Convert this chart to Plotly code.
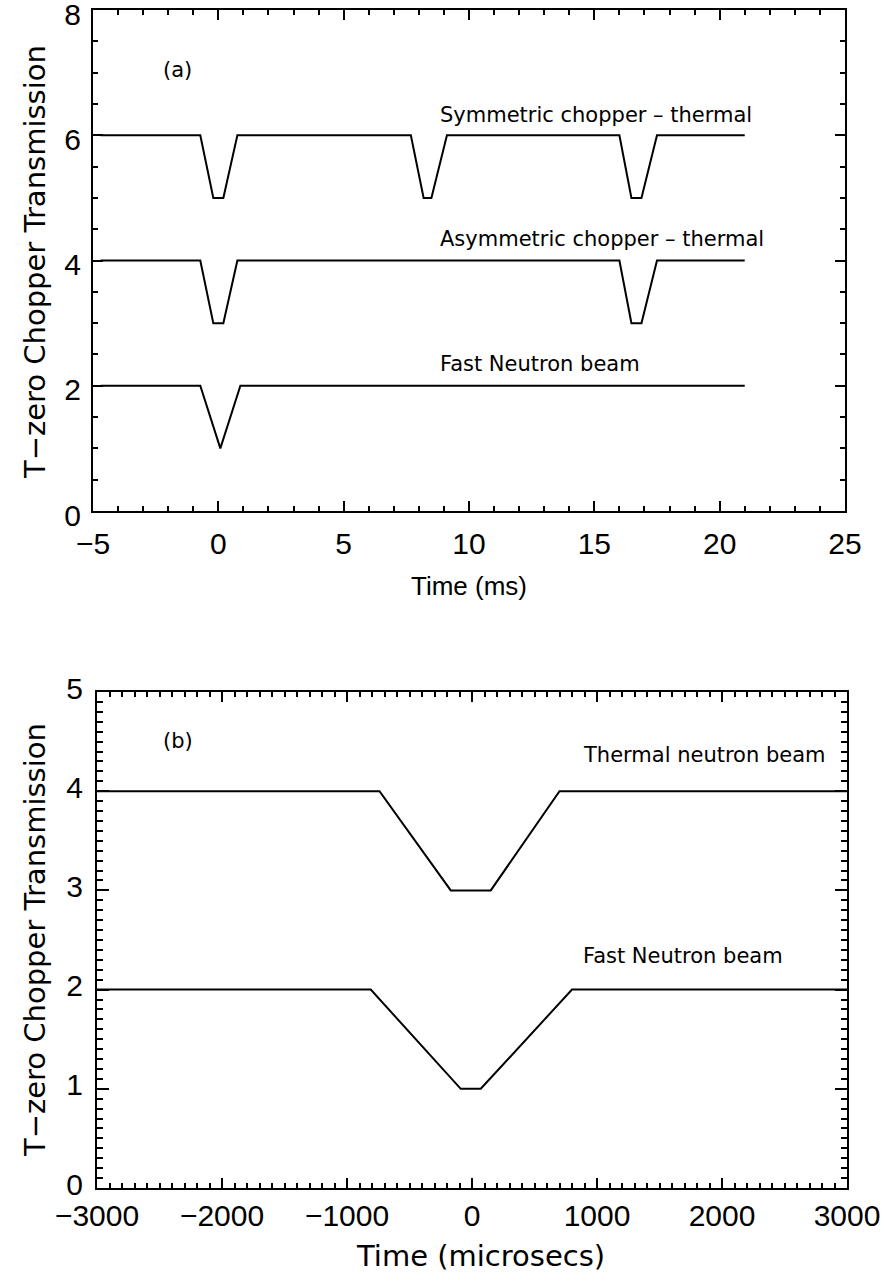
import plotly.graph_objects as go

# ---------- data: panel (a) ----------
sym_t = [-4.7, -0.72, -0.2, 0.2, 0.76, 7.68, 8.19, 8.5, 9.12, 16.0, 16.48, 16.88, 17.5, 21.0]
sym_y = [6, 6, 5, 5, 6, 6, 5, 5, 6, 6, 5, 5, 6, 6]
asym_t = [-4.7, -0.72, -0.2, 0.2, 0.76, 16.0, 16.48, 16.88, 17.5, 21.0]
asym_y = [4, 4, 3, 3, 4, 4, 3, 3, 4, 4]
fast_a_t = [-4.7, -0.72, 0.08, 0.88, 21.0]
fast_a_y = [2, 2, 1, 2, 2]

# ---------- data: panel (b) ----------
therm_b_t = [-3000, -740, -170, 150, 700, 3000]
therm_b_y = [4, 4, 3, 3, 4, 4]
fast_b_t = [-3000, -810, -90, 70, 800, 3000]
fast_b_y = [2, 2, 1, 1, 2, 2]

labels_a = ["Symmetric chopper \u2013 thermal", "Asymmetric chopper \u2013 thermal", "Fast Neutron beam"]
labels_b = ["Thermal neutron beam", "Fast Neutron beam"]
ytitle = "T\u2212zero Chopper Transmission"

W, H = 888, 1283
def px(x): return x / W
def py(y): return 1 - y / H

line = dict(color="black", width=2)
fig = go.Figure()
fig.add_trace(go.Scatter(x=sym_t, y=sym_y, mode="lines", line=line, xaxis="x", yaxis="y"))
fig.add_trace(go.Scatter(x=asym_t, y=asym_y, mode="lines", line=line, xaxis="x", yaxis="y"))
fig.add_trace(go.Scatter(x=fast_a_t, y=fast_a_y, mode="lines", line=line, xaxis="x", yaxis="y"))
fig.add_trace(go.Scatter(x=therm_b_t, y=therm_b_y, mode="lines", line=line, xaxis="x2", yaxis="y2"))
fig.add_trace(go.Scatter(x=fast_b_t, y=fast_b_y, mode="lines", line=line, xaxis="x2", yaxis="y2"))

tickfont = dict(family="Liberation Sans", size=30, color="black")
common = dict(showgrid=False, zeroline=False, showline=True, linecolor="black", linewidth=2,
              mirror="allticks", ticks="inside", tickcolor="black", tickwidth=1.5,
              tickfont=tickfont, automargin=False, ticklabeloverflow="allow")

fig.update_layout(
    width=W, height=H, margin=dict(l=0, r=0, t=0, b=0, autoexpand=False),
    paper_bgcolor="white", plot_bgcolor="white", showlegend=False,
    xaxis=dict(common, domain=[px(93), px(845)], range=[-5, 25], dtick=5, tick0=0, ticklen=10,
               minor=dict(dtick=1, ticklen=5, ticks="inside", tickcolor="black"),
               anchor="y", ticklabelstandoff=5),
    yaxis=dict(common, domain=[py(511), py(10)], range=[0, 8], dtick=2, tick0=0, ticklen=10,
               minor=dict(dtick=0.5, ticklen=5, ticks="inside", tickcolor="black"),
               anchor="x", ticklabelstandoff=4, ticklabelshift=4),
    xaxis2=dict(common, domain=[px(97), px(847)], range=[-3000, 3000], dtick=1000, tick0=0, ticklen=10,
                minor=dict(dtick=100, ticklen=5, ticks="inside", tickcolor="black"),
                anchor="y2", ticklabelstandoff=0),
    yaxis2=dict(common, domain=[py(1188), py(692)], range=[0, 5], dtick=1, tick0=0, ticklen=12,
                minor=dict(dtick=0.1, ticklen=6, ticks="inside", tickcolor="black"),
                anchor="x2", ticklabelstandoff=6, ticklabelshift=-4),
)

afont = dict(family="DejaVu Sans", size=21, color="black")
tfont = dict(family="DejaVu Sans", size=29, color="black")
xtfont_a = dict(family="Liberation Sans", size=26, color="black")
ann = []
# panel labels
ann.append(dict(x=-1.64, y=7.04, xref="x", yref="y", text="(a)", showarrow=False, font=afont,
                xanchor="center", yanchor="middle"))
ann.append(dict(x=-2352, y=4.51, xref="x2", yref="y2", text="(b)", showarrow=False, font=afont,
                xanchor="center", yanchor="middle"))
# curve labels (a)
for txt, yv in zip(labels_a, [6.32, 4.34, 2.35]):
    ann.append(dict(x=8.76, y=yv, xref="x", yref="y", text=txt, showarrow=False,
                    xanchor="left", yanchor="middle", font=afont))
# curve labels (b)
for txt, yv in zip(labels_b, [4.36, 2.34]):
    ann.append(dict(x=872, y=yv, xref="x2", yref="y2", text=txt, showarrow=False,
                    xanchor="left", yanchor="middle", font=afont))
# axis titles
ann.append(dict(x=px(35), y=py(262), xref="paper", yref="paper", text=ytitle, textangle=-90,
                showarrow=False, font=tfont, xanchor="center", yanchor="middle"))
ann.append(dict(x=px(35), y=py(940), xref="paper", yref="paper", text=ytitle, textangle=-90,
                showarrow=False, font=tfont, xanchor="center", yanchor="middle"))
ann.append(dict(x=px(469), y=py(586), xref="paper", yref="paper", text="Time (ms)",
                showarrow=False, font=xtfont_a, xanchor="center", yanchor="middle"))
ann.append(dict(x=px(481), y=py(1256), xref="paper", yref="paper", text="Time (microsecs)",
                showarrow=False, font=tfont, xanchor="center", yanchor="middle"))
fig.update_layout(annotations=ann)

fig.write_html("out.html")
